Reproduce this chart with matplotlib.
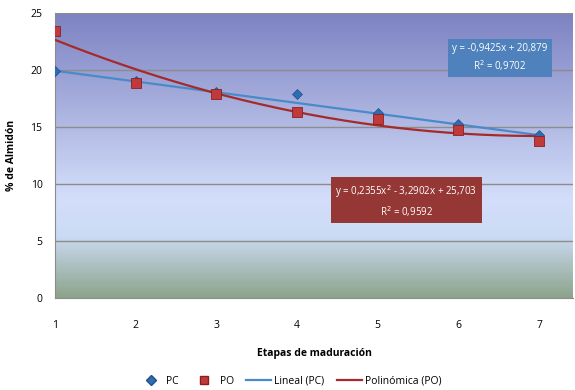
import numpy as np
import matplotlib
matplotlib.use("Agg")
import matplotlib.pyplot as plt
from matplotlib.colors import LinearSegmentedColormap
from matplotlib.lines import Line2D

etapas = [1, 2, 3, 4, 5, 6, 7]
pc = [19.9, 19.0, 18.1, 17.9, 16.2, 15.3, 14.3]
po = [23.4, 18.9, 17.9, 16.3, 15.7, 14.7, 13.8]
lin_coef = [-0.9425, 20.879]
pol_coef = [0.2355, -3.2902, 25.703]
lin_text = "y = -0,9425x + 20,879\nR$^2$ = 0,9702"
pol_text = "y = 0,2355x$^2$ - 3,2902x + 25,703\nR$^2$ = 0,9592"
yticks = [0, 5, 10, 15, 20, 25]

plt.rcParams['font.family'] = ['Open Sans', 'DejaVu Sans']

W, H = 575, 390
fig = plt.figure(figsize=(W/100, H/100), dpi=100)
ax = fig.add_axes([55/W, 1-298/H, (573-55)/W, (298-13)/H])

# background gradient
cmap = LinearSegmentedColormap.from_list("bg", [
    (0.0, (0.55, 0.64, 0.54)),
    (0.22, (0.80, 0.86, 0.96)),
    (0.35, (0.83, 0.87, 0.98)),
    (1.0, (0.49, 0.51, 0.76)),
])
grad = np.linspace(0, 1, 256).reshape(-1, 1)
ax.imshow(grad, aspect='auto', cmap=cmap, origin='lower',
          extent=[0, 1, 0, 1], transform=ax.transAxes, zorder=0)

ax.set_xlim(1, 7.42)
ax.set_ylim(0, 25)
ax.set_yticks(yticks)
ax.set_xticks(etapas)
for y in yticks[1:]:
    ax.axhline(y, color='#8c8c8c', lw=1.0, zorder=1)

xs = np.linspace(1, 7, 200)
ax.plot(xs, np.polyval(lin_coef, xs), color='#4a8ac9', lw=1.6, zorder=3)
ax.plot(xs, np.polyval(pol_coef, xs), color='#a52a2a', lw=1.6, zorder=3)
ax.plot(etapas, pc, ls='none', marker='D', ms=5.5, color='#2e6db4',
        mec='#1f4f8a', mew=0.5, zorder=4)
ax.plot(etapas, po, ls='none', marker='s', ms=7, color='#c0393b',
        mec='#8b1f1f', mew=0.6, zorder=5)

ax.text(0.859, 0.842, lin_text, transform=ax.transAxes, ha='center', va='center',
        color='white', fontsize=7, linespacing=1.3, zorder=6,
        bbox=dict(boxstyle='square,pad=0.45', fc='#4f81bd', ec='none'))
ax.text(0.678, 0.34, pol_text, transform=ax.transAxes, ha='center', va='center',
        color='white', fontsize=7, linespacing=1.3, zorder=6,
        bbox=dict(boxstyle='square,pad=0.45', fc='#953735', ec='none'))

for s in ['top', 'right']:
    ax.spines[s].set_visible(False)
ax.spines['left'].set_color('#8c8c8c')
ax.spines['bottom'].set_color('#8c8c8c')
ax.tick_params(axis='both', length=0, labelsize=7.5)
ax.tick_params(axis='x', pad=16)
ax.tick_params(axis='y', pad=9)
ax.set_xlabel("Etapas de maduración", fontsize=7.5, fontweight='bold', labelpad=12)
ax.set_ylabel("% de Almidón", fontsize=7.5, fontweight='bold', labelpad=10)

handles = [
    Line2D([], [], ls='none', marker='D', ms=5, color='#2e6db4', mec='#1f4f8a'),
    Line2D([], [], ls='none', marker='s', ms=6, color='#c0393b', mec='#8b1f1f'),
    Line2D([], [], color='#4a8ac9', lw=1.6),
    Line2D([], [], color='#a52a2a', lw=1.6),
]
fig.legend(handles, ['PC', 'PO', 'Lineal (PC)', 'Polinómica (PO)'],
           loc='center', bbox_to_anchor=(290/W, 1-381/H), ncol=4, frameon=False,
           fontsize=7.5, handlelength=2.4, columnspacing=1.2, handletextpad=0.3)

fig.savefig("out.png", dpi=100)
